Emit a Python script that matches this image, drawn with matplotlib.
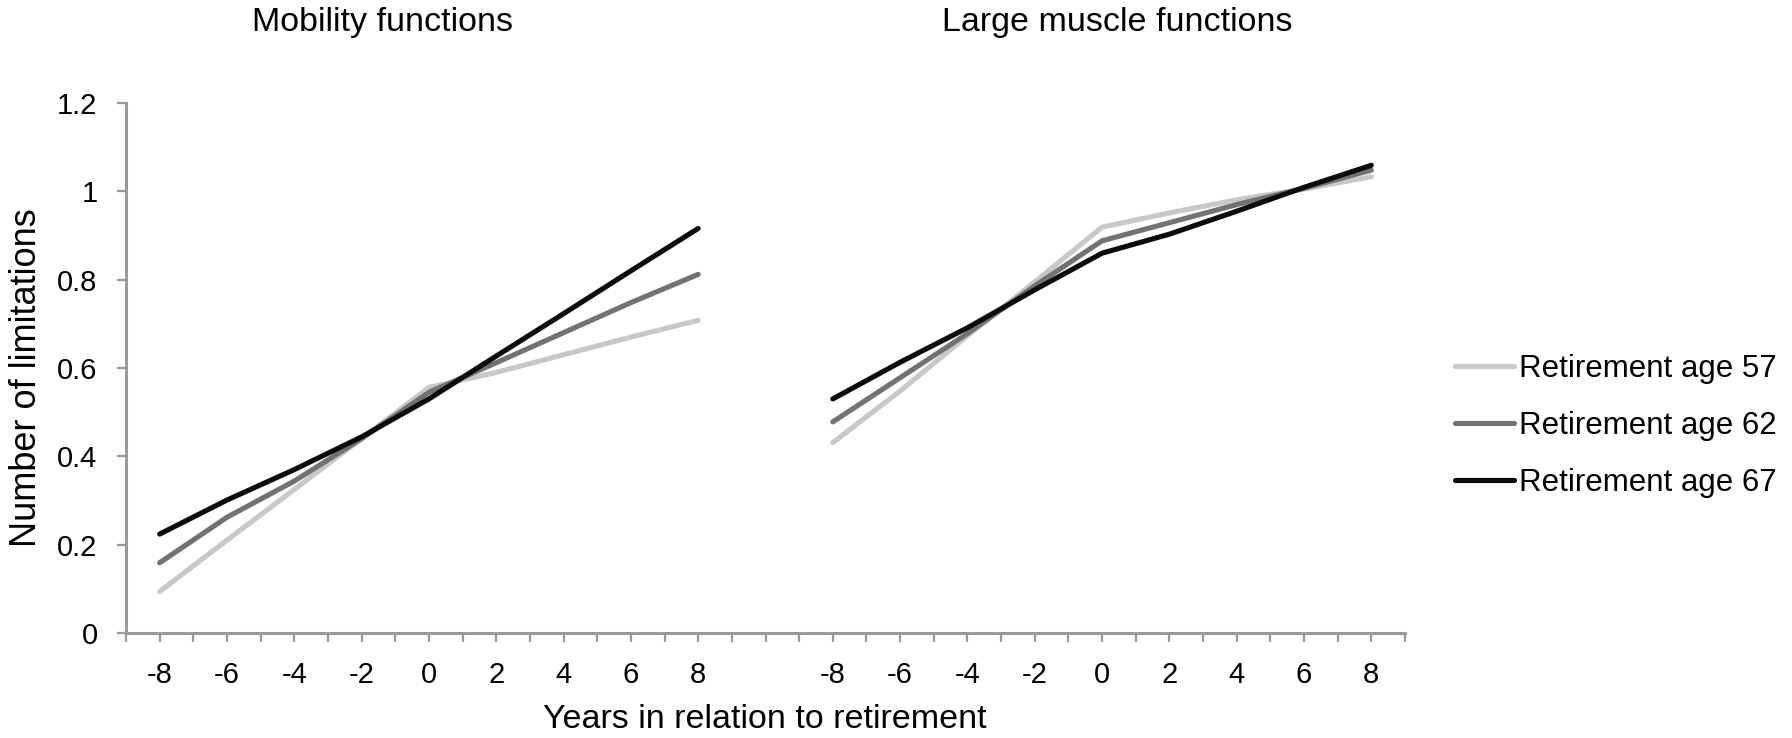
import matplotlib
matplotlib.use('Agg')
import matplotlib.pyplot as plt

plt.rcParams['font.family'] = ['Liberation Sans', 'DejaVu Sans']

#region: data
years = [-8, -6, -4, -2, 0, 2, 4, 6, 8]
series_names = ['Retirement age 57', 'Retirement age 62', 'Retirement age 67']
series_colors = ['#c8c8c8', '#727272', '#0c0c0c']

mobility_57 = [0.094, 0.210, 0.325, 0.440, 0.556, 0.590, 0.630, 0.670, 0.708]
mobility_62 = [0.159, 0.262, 0.344, 0.440, 0.545, 0.612, 0.680, 0.748, 0.812]
mobility_67 = [0.224, 0.301, 0.370, 0.444, 0.530, 0.627, 0.723, 0.820, 0.916]

muscle_57 = [0.431, 0.548, 0.673, 0.795, 0.919, 0.951, 0.981, 1.005, 1.033]
muscle_62 = [0.478, 0.578, 0.678, 0.786, 0.888, 0.929, 0.970, 1.007, 1.048]
muscle_67 = [0.530, 0.613, 0.691, 0.777, 0.860, 0.903, 0.955, 1.009, 1.059]

panel_titles = ['Mobility functions', 'Large muscle functions']
yticks = [0, 0.2, 0.4, 0.6, 0.8, 1, 1.2]
ytick_labels = ['0', '0.2', '0.4', '0.6', '0.8', '1', '1.2']
#endregion

W, H = 1792, 738
fig = plt.figure(figsize=(W / 100, H / 100), dpi=100)
# axes box in pixels: left 126, right 1405, bottom 633, top 103
ax = fig.add_axes([126 / W, 1 - 633 / H, (1405 - 126) / W, (633 - 103) / H])

# two panels share one category axis, with an empty gap between them
offsets = [9, 29]
panels = [[mobility_57, mobility_62, mobility_67], [muscle_57, muscle_62, muscle_67]]
for off, panel in zip(offsets, panels):
    xs = [y + off for y in years]
    for vals, c, name in zip(panel, series_colors, series_names):
        ax.plot(xs, vals, color=c, lw=3.7, solid_capstyle='round',
                solid_joinstyle='round', label=name if off == offsets[0] else None)

ax.set_xlim(0, 38)
ax.set_ylim(0, 1.2)

tick_pos = list(range(0, 39))
tick_lab = [''] * len(tick_pos)
for off in offsets:
    for y in years:
        tick_lab[y + off] = str(y)
ax.set_xticks(tick_pos)
ax.set_xticklabels(tick_lab, fontsize=21)
ax.set_yticks(yticks)
ax.set_yticklabels(ytick_labels, fontsize=21)

spine_c = '#9a9a9a'
for s in ['top', 'right']:
    ax.spines[s].set_visible(False)
for s in ['left', 'bottom']:
    ax.spines[s].set_color(spine_c)
    ax.spines[s].set_linewidth(2.2)
ax.tick_params(axis='both', direction='out', length=6.5, width=1.6, color=spine_c, pad=14)

fig.text(382 / W, 1 - 22 / H, panel_titles[0], ha='center', va='center', fontsize=24.5)
fig.text(1117 / W, 1 - 22 / H, panel_titles[1], ha='center', va='center', fontsize=24.5)
fig.text(765 / W, 1 - 720 / H, 'Years in relation to retirement', ha='center', va='center',
         fontsize=24.5)
fig.text(27 / W, 1 - 378 / H, 'Number of limitations', ha='center', va='center',
         rotation=90, fontsize=26)

fig.legend(loc='center left', bbox_to_anchor=(1455 / W, 1 - 426 / H), frameon=False,
           fontsize=22.5, handlelength=1.9, handletextpad=0.15, labelspacing=0.87,
           borderpad=0, borderaxespad=0)

fig.savefig('out.png', dpi=100, facecolor='white')
